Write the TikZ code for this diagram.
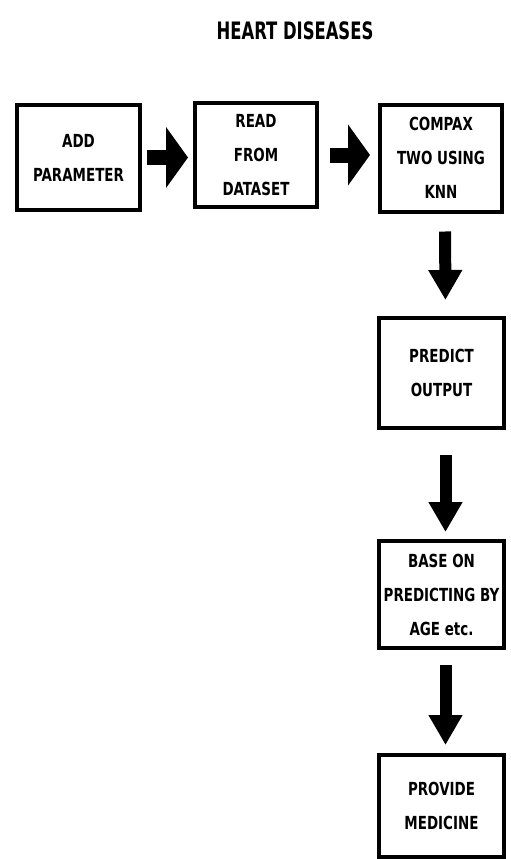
\documentclass[tikz,border=0pt]{standalone}
\usepackage{fontspec}
\newfontfamily\boxfont[FakeStretch=0.83]{DejaVu Sans Condensed}
\newfontfamily\titlefont[FakeStretch=0.76]{DejaVu Sans Condensed}
\usetikzlibrary{arrows.meta}
\tikzset{
  procbox/.style={draw=black, line width=4pt, fill=white, align=center,
    font=\boxfont\bfseries\fontsize{18}{34}\selectfont, inner sep=0pt},
  harrow/.style={line width=15pt, -{Triangle[width=60pt,length=22pt]}},
  varrow/.style={line width=12pt, -{Triangle[width=32pt,length=30pt]}},
}
\begin{document}
\begin{tikzpicture}[x=1pt,y=-1pt]
\useasboundingbox (0,0) rectangle (511,859);
\node[font=\titlefont\bfseries\fontsize{24}{28}\selectfont] (title) at (295,31) {HEART DISEASES};
\node[procbox, minimum width=123pt, minimum height=105pt] (b1) at (78.5,157.5) {ADD\\PARAMETER};
\node[procbox, minimum width=122pt, minimum height=104pt] (b2) at (256,155) {READ\\FROM\\DATASET};
\node[procbox, minimum width=122pt, minimum height=107pt] (b3) at (441,158) {COMPAX\\TWO USING\\KNN};
\node[procbox, minimum width=125pt, minimum height=110pt] (b4) at (441.5,373) {PREDICT\\OUTPUT};
\node[procbox, minimum width=125pt, minimum height=107pt] (b5) at (441.5,594.5) {BASE ON\\PREDICTING BY\\AGE etc.};
\node[procbox, minimum width=125pt, minimum height=102pt] (b6) at (441.5,806) {PROVIDE\\MEDICINE};
\draw[harrow, shorten <=5pt, shorten >=5pt] (b1.east) -- (b1.east -| b2.west);
\draw[harrow, shorten <=11pt, shorten >=8pt] (b2.east) -- (b2.east -| b3.west);
\draw[varrow, shorten <=18pt, shorten >=16pt] ([xshift=4pt]b3.south) -- ([xshift=4pt]b4.north);
\draw[varrow, shorten <=25pt, shorten >=7pt] ([xshift=4pt]b4.south) -- ([xshift=4pt]b5.north);
\draw[varrow, shorten <=15pt, shorten >=8pt] ([xshift=4pt]b5.south) -- ([xshift=4pt]b6.north);
\end{tikzpicture}
\end{document}
